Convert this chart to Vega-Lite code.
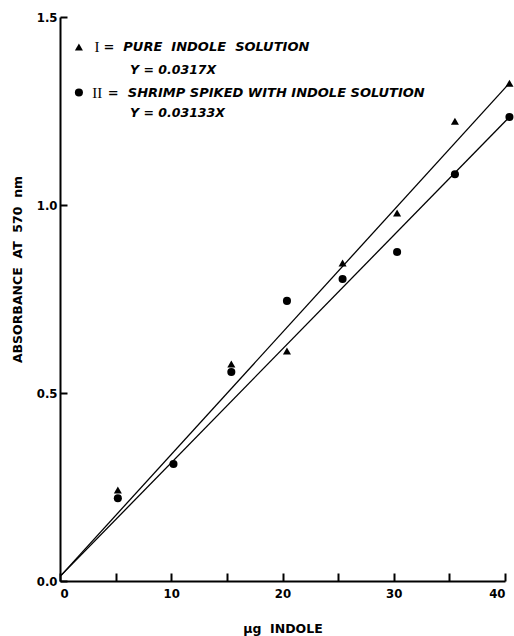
{
  "$schema": "https://vega.github.io/schema/vega-lite/v6.json",
  "width": 445,
  "height": 564,
  "autosize": {"type": "none"},
  "padding": {"left": 60, "top": 17, "right": 9, "bottom": 55},
  "background": "white",
  "config": {
    "view": {"stroke": null},
    "font": "DejaVu Sans",
    "axis": {
      "domainColor": "black",
      "domainWidth": 2,
      "tickColor": "black",
      "tickWidth": 2,
      "grid": false,
      "labelFont": "DejaVu Sans Condensed, DejaVu Sans, sans-serif",
      "labelFontSize": 13,
      "labelFontWeight": "bold",
      "labelColor": "black",
      "titleFont": "DejaVu Sans, sans-serif",
      "titleFontSize": 12.5,
      "titleFontWeight": "bold",
      "titleColor": "black"
    }
  },
  "datasets": {
    "points": [
      {"ug": 5.2, "absorbance": 0.242, "series": "I"},
      {"ug": 15.4, "absorbance": 0.577, "series": "I"},
      {"ug": 20.4, "absorbance": 0.612, "series": "I"},
      {"ug": 25.4, "absorbance": 0.846, "series": "I"},
      {"ug": 30.3, "absorbance": 0.979, "series": "I"},
      {"ug": 35.5, "absorbance": 1.223, "series": "I"},
      {"ug": 40.4, "absorbance": 1.324, "series": "I"},
      {"ug": 5.2, "absorbance": 0.22, "series": "II"},
      {"ug": 10.2, "absorbance": 0.311, "series": "II"},
      {"ug": 15.4, "absorbance": 0.556, "series": "II"},
      {"ug": 20.4, "absorbance": 0.745, "series": "II"},
      {"ug": 25.4, "absorbance": 0.803, "series": "II"},
      {"ug": 30.3, "absorbance": 0.875, "series": "II"},
      {"ug": 35.5, "absorbance": 1.082, "series": "II"},
      {"ug": 40.4, "absorbance": 1.234, "series": "II"}
    ],
    "fits": [
      {"ug": 0.1, "absorbance": 0.015, "series": "I"},
      {"ug": 40.4, "absorbance": 1.324, "series": "I"},
      {"ug": 0.1, "absorbance": 0.015, "series": "II"},
      {"ug": 40.4, "absorbance": 1.234, "series": "II"}
    ],
    "key": [
      {"series": "I", "numeral": "I", "label": "=\u00a0 PURE\u00a0 INDOLE\u00a0 SOLUTION", "equation": "Y = 0.0317X"},
      {"series": "II", "numeral": "II", "label": "=\u00a0 SHRIMP SPIKED WITH INDOLE SOLUTION", "equation": "Y = 0.03133X"}
    ]
  },
  "layer": [
    {
      "data": {"name": "fits"},
      "mark": {"type": "line", "color": "black", "strokeWidth": 1.3, "clip": false},
      "encoding": {
        "x": {
          "field": "ug",
          "type": "quantitative",
          "scale": {"domain": [0, 40], "nice": false, "zero": true},
          "axis": {
            "title": "µg\u00a0 INDOLE",
            "values": [0, 5, 10, 15, 20, 25, 30, 35, 40],
            "labelExpr": "datum.value % 10 === 0 ? datum.label : ''",
            "tickSize": -8,
            "labelPadding": 14,
            "titlePadding": 22
          }
        },
        "y": {
          "field": "absorbance",
          "type": "quantitative",
          "scale": {"domain": [0, 1.5], "nice": false},
          "axis": {
            "title": "ABSORBANCE\u00a0 AT\u00a0 570\u00a0 nm",
            "values": [0, 0.5, 1, 1.5],
            "format": ".1f",
            "tickSize": -7,
            "labelPadding": 10,
            "titlePadding": 12,
            "titleY": 252
          }
        },
        "detail": {"field": "series"}
      }
    },
    {
      "data": {"name": "points"},
      "mark": {"type": "point", "filled": true, "color": "black", "opacity": 1, "size": 65, "clip": false},
      "encoding": {
        "x": {"field": "ug", "type": "quantitative"},
        "y": {"field": "absorbance", "type": "quantitative"},
        "shape": {
          "field": "series",
          "type": "nominal",
          "scale": {"domain": ["I", "II"], "range": ["triangle-up", "circle"]},
          "legend": null
        }
      }
    },
    {
      "data": {"name": "key"},
      "transform": [{"filter": "datum.series === 'I'"}],
      "layer": [
        {
          "mark": {"type": "point", "shape": "triangle-up", "filled": true, "color": "black", "opacity": 1, "size": 65},
          "encoding": {"x": {"datum": 1.7, "type": "quantitative"}, "y": {"datum": 1.42, "type": "quantitative"}}
        },
        {
          "mark": {"type": "text", "font": "Liberation Serif", "fontSize": 15, "align": "left", "baseline": "middle", "color": "black"},
          "encoding": {"x": {"datum": 3.1, "type": "quantitative"}, "y": {"datum": 1.42, "type": "quantitative"}, "text": {"field": "numeral"}}
        },
        {
          "mark": {"type": "text", "font": "DejaVu Sans", "fontSize": 13, "fontWeight": "bold", "fontStyle": "italic", "align": "left", "baseline": "middle", "color": "black"},
          "encoding": {"x": {"datum": 3.9, "type": "quantitative"}, "y": {"datum": 1.42, "type": "quantitative"}, "text": {"field": "label"}}
        },
        {
          "mark": {"type": "text", "font": "DejaVu Sans", "fontSize": 12.5, "fontWeight": "bold", "fontStyle": "italic", "align": "left", "baseline": "middle", "color": "black"},
          "encoding": {"x": {"datum": 6.3, "type": "quantitative"}, "y": {"datum": 1.359, "type": "quantitative"}, "text": {"field": "equation"}}
        }
      ]
    },
    {
      "data": {"name": "key"},
      "transform": [{"filter": "datum.series === 'II'"}],
      "layer": [
        {
          "mark": {"type": "point", "shape": "circle", "filled": true, "color": "black", "opacity": 1, "size": 65},
          "encoding": {"x": {"datum": 1.7, "type": "quantitative"}, "y": {"datum": 1.299, "type": "quantitative"}}
        },
        {
          "mark": {"type": "text", "font": "Liberation Serif", "fontSize": 15, "align": "left", "baseline": "middle", "color": "black"},
          "encoding": {"x": {"datum": 2.9, "type": "quantitative"}, "y": {"datum": 1.299, "type": "quantitative"}, "text": {"field": "numeral"}}
        },
        {
          "mark": {"type": "text", "font": "DejaVu Sans", "fontSize": 13, "fontWeight": "bold", "fontStyle": "italic", "align": "left", "baseline": "middle", "color": "black"},
          "encoding": {"x": {"datum": 4.3, "type": "quantitative"}, "y": {"datum": 1.299, "type": "quantitative"}, "text": {"field": "label"}}
        },
        {
          "mark": {"type": "text", "font": "DejaVu Sans", "fontSize": 12.5, "fontWeight": "bold", "fontStyle": "italic", "align": "left", "baseline": "middle", "color": "black"},
          "encoding": {"x": {"datum": 6.3, "type": "quantitative"}, "y": {"datum": 1.245, "type": "quantitative"}, "text": {"field": "equation"}}
        }
      ]
    }
  ]
}
